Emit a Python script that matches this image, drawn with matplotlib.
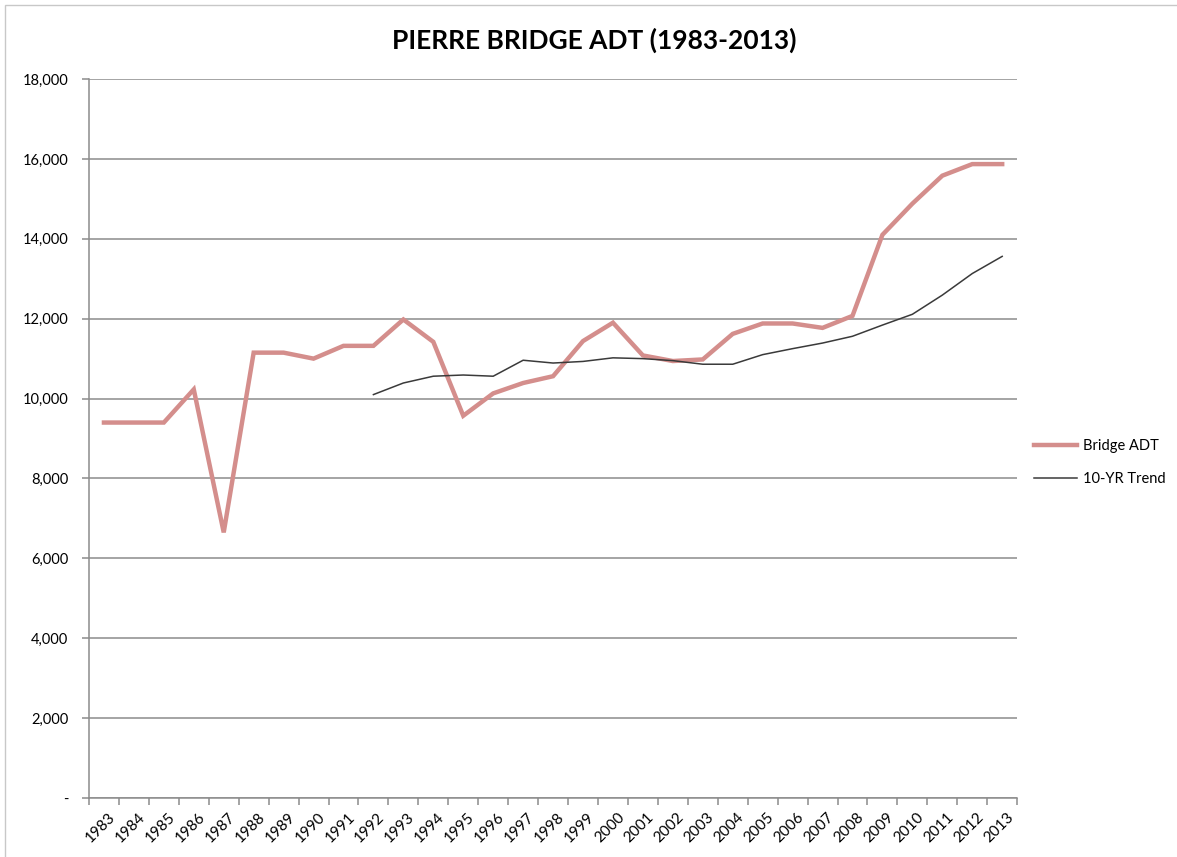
import numpy as np
import matplotlib.pyplot as plt
import matplotlib.transforms as mtransforms
from matplotlib.ticker import FuncFormatter, MultipleLocator
from matplotlib.patches import Rectangle

years = [str(y) for y in range(1983, 2014)]
bridge_adt = [9400, 9400, 9400, 10230, 6650, 11150, 11150, 11000, 11320, 11320,
              11980, 11420, 9570, 10130, 10390, 10560, 11440, 11900, 11080, 10940,
              10980, 11620, 11880, 11880, 11770, 12070, 14100, 14880, 15580, 15870,
              15870]
# trend only starts in 1992
trend = [np.nan] * 9 + [10100, 10390, 10560, 10590, 10560, 10960, 10890, 10930,
                        11020, 11000, 10950, 10860, 10860, 11100, 11250, 11390,
                        11560, 11840, 12110, 12590, 13130, 13560]

plt.rcParams['font.family'] = ['Lato', 'DejaVu Sans']

fig = plt.figure(figsize=(11.77, 8.57), dpi=100)
ax = fig.add_axes([0.0756, 0.0688, 0.7886, 0.839])

x = np.arange(len(years))
ax.plot(x, bridge_adt, color='#d48e8c', lw=3.2, label='Bridge ADT', solid_joinstyle='miter')
ax.plot(x, trend, color='#3a3a3a', lw=1.1, label='10-YR Trend')

ax.set_xlim(-0.5, len(years) - 0.5)
ax.set_ylim(0, 18000)
ax.yaxis.set_major_locator(MultipleLocator(2000))
ax.yaxis.set_major_formatter(FuncFormatter(lambda v, p: '-' if v == 0 else f'{int(v):,}'))
ax.grid(axis='y', color='#8c8c8c', lw=1.1)
ax.set_axisbelow(True)

ax.set_xticks(x)
ax.set_xticklabels(years, rotation=45, ha='right', va='top', rotation_mode='anchor')
ax.set_xticks(np.arange(-0.5, len(years)), minor=True)
ax.tick_params(axis='x', which='major', length=0, pad=9, labelsize=11)
ax.tick_params(axis='x', which='minor', length=5, color='#8c8c8c', width=1.1)
ax.tick_params(axis='y', length=5, color='#8c8c8c', width=1.1, labelsize=10.5, pad=10)
# nudge year labels a little to the right
shift = mtransforms.ScaledTranslation(3 / 72, 0, fig.dpi_scale_trans)
for lab in ax.get_xticklabels():
    lab.set_transform(lab.get_transform() + shift)

for s in ['top', 'right']:
    ax.spines[s].set_visible(False)
for s in ['left', 'bottom']:
    ax.spines[s].set_color('#8c8c8c')
    ax.spines[s].set_linewidth(1.1)

fig.text(0.505, 0.953, 'PIERRE BRIDGE ADT (1983-2013)', ha='center', va='center',
         fontsize=19, fontweight='bold')

ax.legend(loc='center left', bbox_to_anchor=(0.867, 0.46), bbox_transform=fig.transFigure,
          frameon=False, fontsize=10.5, handlelength=3.0, handletextpad=0.4,
          labelspacing=1.3)

# outer frame of the screenshot
fig.patches.append(Rectangle((0.004, -0.01), 1.0, 1.004, transform=fig.transFigure,
                             fill=False, ec='#c8c8c8', lw=1))

fig.savefig('out.png', dpi=100)
